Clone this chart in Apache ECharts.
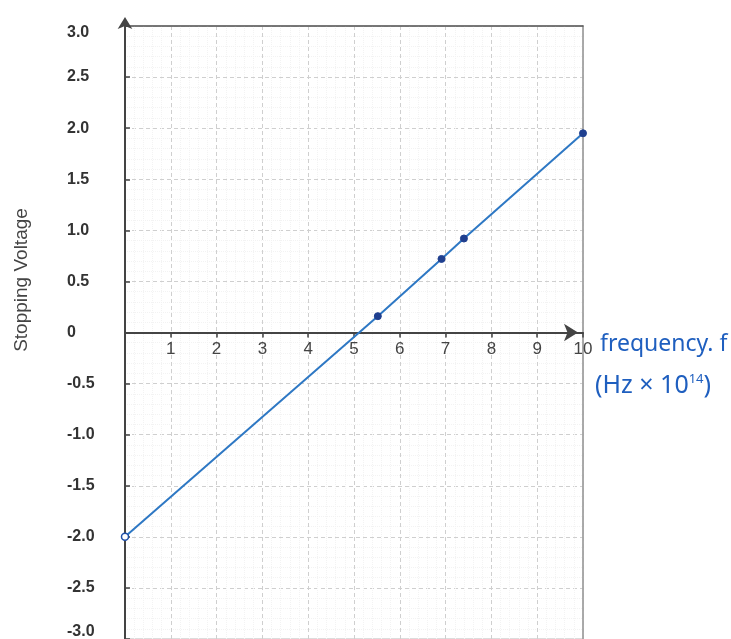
<!DOCTYPE html>
<html>
<head>
<meta charset="utf-8">
<script src="https://cdn.jsdelivr.net/npm/echarts@6/dist/echarts.min.js"></script>
<style>html,body{margin:0;padding:0;background:#fff;}#chart{width:731px;height:639px;}</style>
</head>
<body>
<div id="chart"></div>
<script>
// Data
var frequency = [0, 5.52, 6.91, 7.40, 10.0];          // Hz x 10^14
var stoppingVoltage = [-2.0, 0.16, 0.72, 0.92, 1.95];  // V
var xTicks = [1, 2, 3, 4, 5, 6, 7, 8, 9, 10];
var yTicks = [3.0, 2.5, 2.0, 1.5, 1.0, 0.5, 0, -0.5, -1.0, -1.5, -2.0, -2.5, -3.0];

var points = frequency.map(function (f, i) { return [f, stoppingVoltage[i]]; });

var GRID_TOP = 26, GRID_H = 613;
var zeroOffset = -(GRID_H / 2); // move the x axis from the grid bottom up to y = 0

var chart = echarts.init(document.getElementById('chart'));
var option = {
  animation: false,
  backgroundColor: '#ffffff',
  grid: { left: 125, top: GRID_TOP, width: 458, height: GRID_H, outerBoundsMode: 'none', containLabel: false, show: true, borderColor: '#b8b8b8', borderWidth: 1, backgroundColor: 'transparent' },
  xAxis: [{
    type: 'value', min: 0, max: 10, interval: 1, position: 'bottom', offset: zeroOffset,
    axisLine: { show: true, onZero: false, lineStyle: { color: '#444', width: 2 }, symbol: ['none', 'arrow'], symbolSize: [13, 14], symbolOffset: [0, -5] },
    axisTick: { show: true, length: 5, lineStyle: { color: '#444', width: 1.5 } },
    axisLabel: {
      margin: 8, fontSize: 17, color: '#444', fontFamily: 'Liberation Sans',
      formatter: function (v) { return xTicks.indexOf(v) >= 0 ? String(v) : ''; }
    },
    splitLine: { show: true, lineStyle: { color: '#cfcfcf', type: [4, 3], width: 1 } },
    minorSplitLine: { show: true, lineStyle: { color: '#f3f3f3', type: 'dotted', width: 1 } },
    minorTick: { show: false, splitNumber: 5 }
  }, {
    type: 'value', min: 0, max: 10, position: 'top',
    axisLine: { show: true, onZero: false, lineStyle: { color: '#555', width: 1.5 } },
    axisTick: { show: false }, axisLabel: { show: false }, splitLine: { show: false }
  }],
  yAxis: [{
    type: 'value', min: -3, max: 3, interval: 0.5,
    axisLine: { show: true, onZero: false, lineStyle: { color: '#444', width: 2 }, symbol: ['none', 'arrow'], symbolSize: [11, 12], symbolOffset: [0, 9] },
    axisTick: { show: true, inside: true, length: 5, lineStyle: { color: '#444', width: 1.5 } },
    axisLabel: {
      margin: 58, align: 'left', fontSize: 16, fontWeight: 'bold', color: '#333', fontFamily: 'Liberation Sans',
      formatter: function (v) {
        var r = Math.round(v * 10) / 10;
        var s = r === 0 ? '0' : r.toFixed(1);
        if (r === 3) return '{top|' + s + '}';
        if (r === -3) return '{bot|' + s + '}';
        return s;
      },
      rich: {
        top: { fontSize: 16, fontWeight: 'bold', color: '#333', fontFamily: 'Liberation Sans', padding: [14, 0, 0, 0] },
        bot: { fontSize: 16, fontWeight: 'bold', color: '#333', fontFamily: 'Liberation Sans', padding: [0, 0, 14, 0] }
      }
    },
    splitLine: { show: true, lineStyle: { color: '#cfcfcf', type: [4, 3], width: 1 } },
    minorSplitLine: { show: true, lineStyle: { color: '#f3f3f3', type: 'dotted', width: 1 } },
    minorTick: { show: false, splitNumber: 5 }
  }, {
    type: 'value', min: -3, max: 3, position: 'right',
    axisLine: { show: true, onZero: false, lineStyle: { color: '#9a9a9a', width: 1.5 } },
    axisTick: { show: false }, axisLabel: { show: false }, splitLine: { show: false }
  }],
  series: [{
    type: 'line',
    data: points.map(function (p, i) {
      if (i === 0) {
        return { value: p, symbol: 'circle', symbolSize: 7, itemStyle: { color: '#ffffff', borderColor: '#2050a8', borderWidth: 1.5 } };
      }
      return { value: p, symbol: 'circle', symbolSize: 7, itemStyle: { color: '#1f3f8f', borderColor: '#1f3f8f' } };
    }),
    lineStyle: { color: '#2e78c4', width: 2 },
    z: 5
  }],
  graphic: [
    {
      type: 'text', x: 22, y: 280, rotation: Math.PI / 2,
      style: { text: 'Stopping Voltage', fontSize: 19, fontFamily: 'Liberation Sans', fill: '#444', align: 'center', verticalAlign: 'middle' }
    },
    {
      type: 'text', x: 600, y: 344,
      style: { text: 'frequency. f', fontSize: 23, fontFamily: 'Noto Sans', fill: '#1f5fbf', align: 'left', verticalAlign: 'middle' }
    },
    {
      type: 'text', x: 595, y: 386,
      style: {
        text: '{n|(Hz × 10}{s|14}{n|)}',
        align: 'left', verticalAlign: 'middle',
        rich: {
          n: { fontSize: 25, fontFamily: 'Noto Sans', fill: '#1f5fbf', color: '#1f5fbf' },
          s: { fontSize: 13, fontFamily: 'Noto Sans', fill: '#1f5fbf', color: '#1f5fbf', verticalAlign: 'top', padding: [0, 0, 14, 0] }
        }
      }
    }
  ]
};
chart.setOption(option);
</script>
</body>
</html>
